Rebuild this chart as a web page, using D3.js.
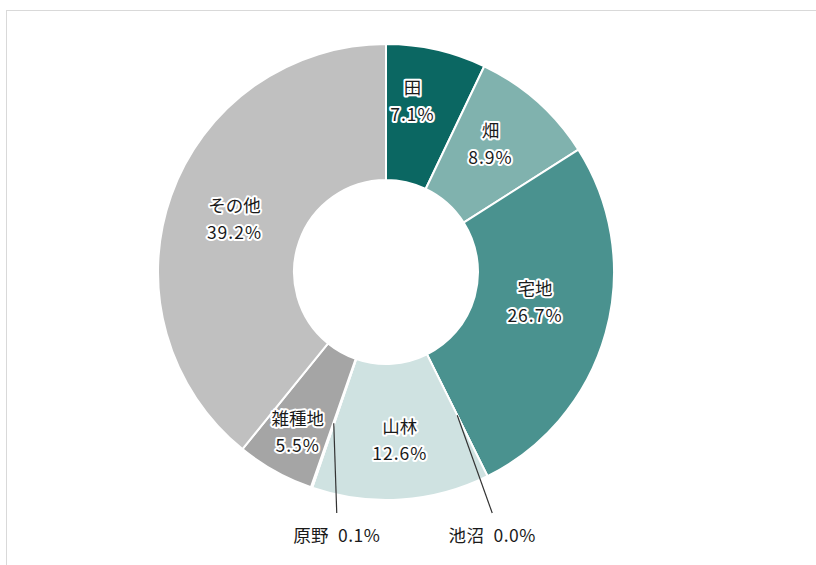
<!DOCTYPE html>
<html lang="ja">
<head>
<meta charset="utf-8">
<script src="https://cdn.jsdelivr.net/npm/d3@7"></script>
<style>
  html, body { margin: 0; padding: 0; background: #fff; }
  svg { display: block; }
  text { font-family: "Noto Sans CJK JP", "Noto Sans", sans-serif; }
</style>
</head>
<body>
<svg id="chart" width="816" height="565"></svg>
<script>
// 地目別面積の構成比（%）
const categories = ["田", "畑", "宅地", "池沼", "山林", "原野", "雑種地", "その他"];
const shares     = [7.1, 8.9, 26.7, 0.0, 12.6, 0.1, 5.5, 39.2];
const colors     = ["#0b6762", "#80b2ae", "#4a928f", "#6fa9a5", "#cfe2e1", "#8f8f8f", "#a5a5a5", "#c0c0c0"];
// 円の外側に引き出して表示する項目
const outsideLabels = ["池沼", "原野"];

const svg = d3.select("#chart");
const W = 816, H = 565;
const cx = 386, cy = 272;
const outerR = 228, innerR = 92;

// 外枠
svg.append("rect")
  .attr("x", 6.5).attr("y", 10.5)
  .attr("width", W + 10).attr("height", H + 10)
  .attr("fill", "#fff")
  .attr("stroke", "#d9d9d9")
  .attr("stroke-width", 1);

const data = categories.map((c, i) => ({ name: c, value: shares[i], color: colors[i] }));

const pie = d3.pie().value(d => d.value).sort(null);
const arcs = pie(data);

const arc = d3.arc().innerRadius(innerR).outerRadius(outerR);
const g = svg.append("g").attr("transform", `translate(${cx},${cy})`);

g.selectAll("path.slice")
  .data(arcs)
  .join("path")
  .attr("class", "slice")
  .attr("d", arc)
  .attr("fill", d => d.data.color)
  .attr("stroke", "#fff")
  .attr("stroke-width", 2)
  .attr("stroke-linejoin", "round");

const fmt = v => v.toFixed(1) + "%";
const labelR = 165;
const pt = (angle, r) => [Math.sin(angle) * r, -Math.cos(angle) * r];
// ラベル位置の微調整（px）
const labelNudge = {
  "田": [-10, -10], "畑": [-5, -4], "宅地": [-10, -14],
  "山林": [3, 3], "雑種地": [-8, 16], "その他": [4, 2]
};

// 円内ラベル（名称と構成比の2行）
const inside = arcs.filter(d => !outsideLabels.includes(d.data.name));
const labelG = g.selectAll("g.lbl")
  .data(inside)
  .join("g")
  .attr("class", "lbl")
  .attr("transform", d => {
    const mid = (d.startAngle + d.endAngle) / 2;
    const [x, y] = pt(mid, labelR);
    const [nx, ny] = labelNudge[d.data.name] || [0, 0];
    return `translate(${x + nx},${y + ny})`;
  });

function haloText(sel, dy, txt, spacing) {
  [true, false].forEach(halo => {
    const t = sel.append("text")
      .attr("text-anchor", "middle")
      .attr("dy", dy)
      .attr("font-size", 17.5)
      .attr("letter-spacing", spacing)
      .text(txt);
    if (halo) {
      t.attr("fill", "none").attr("stroke", "#fff")
        .attr("stroke-width", 4).attr("stroke-linejoin", "round");
    } else {
      t.attr("fill", "#1a1a1a");
    }
  });
}

labelG.each(function (d) {
  const s = d3.select(this);
  haloText(s, -7, d.data.name, 0);
  haloText(s, 20, fmt(d.data.value), 1);
});

// 引き出し線付きラベル
const leaderEndY = outerR + 13;
const leaderShift = { "原野": 3, "池沼": 35 };
const outside = arcs.filter(d => outsideLabels.includes(d.data.name));

outside.forEach(d => {
  const mid = (d.startAngle + d.endAngle) / 2;
  const [x0, y0] = pt(mid, 160);
  const x1 = x0 + leaderShift[d.data.name];
  g.append("line")
    .attr("x1", x0).attr("y1", y0)
    .attr("x2", x1).attr("y2", leaderEndY)
    .attr("stroke", "#333")
    .attr("stroke-width", 1.2);
  g.append("text")
    .attr("x", x1).attr("y", leaderEndY + 29)
    .attr("text-anchor", "middle")
    .attr("font-size", 17.5)
    .attr("letter-spacing", 0.5)
    .attr("fill", "#1a1a1a")
    .attr("xml:space", "preserve")
    .text(d.data.name + "  " + fmt(d.data.value));
});
</script>
</body>
</html>
